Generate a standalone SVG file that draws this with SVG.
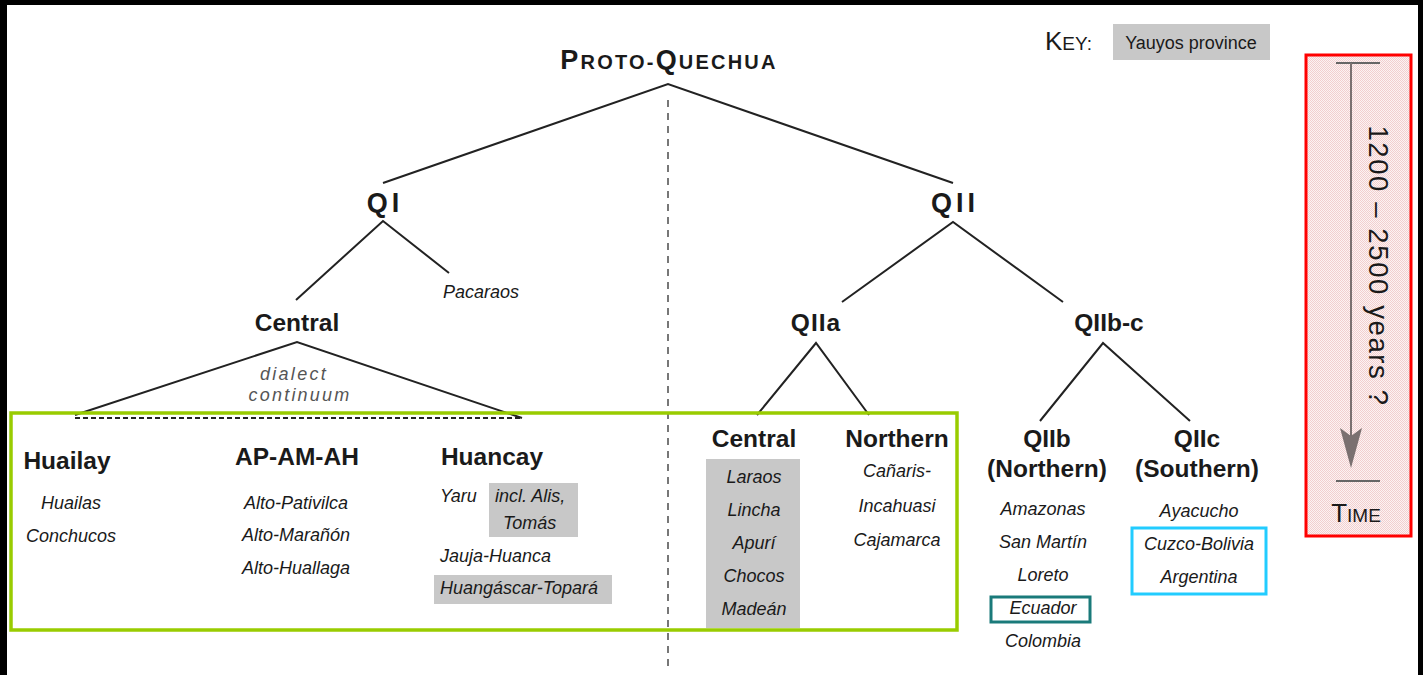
<svg xmlns="http://www.w3.org/2000/svg" width="1423" height="675" viewBox="0 0 1423 675">
<style>
text{font-family:"Liberation Sans",Arial,sans-serif;fill:#1a1a1a}
.h{font-weight:bold;font-size:24.5px;text-anchor:middle}
.q{font-weight:bold;font-size:27px;text-anchor:middle;letter-spacing:4px}
.i{font-style:italic;font-size:18px;text-anchor:middle}
.il{font-style:italic;font-size:18px}
.ln{stroke:#222;stroke-width:2;fill:none}
.yb{fill:#c8c8c8}
</style>
<defs>
<pattern id="dots" width="2" height="2" patternUnits="userSpaceOnUse">
<rect width="2" height="2" fill="#fcf3f3"/>
<rect width="1" height="1" fill="#f2cfcf"/>
<rect x="1" y="1" width="1" height="1" fill="#f2cfcf"/>
</pattern>
</defs>
<rect width="1423" height="675" fill="#fff"/>
<rect x="0" y="0" width="7" height="675" fill="#000"/>
<rect x="0" y="0" width="1423" height="5" fill="#000"/>
<rect x="1418" y="0" width="5" height="675" fill="#000"/>

<g id="connectors">
<line x1="668" y1="100" x2="668" y2="668" stroke="#777" stroke-width="2" stroke-dasharray="7 6"/>
<polyline class="ln" points="383,183 668,84 953,183"/>
<polyline class="ln" points="296,300 383,221 449,273"/>
<polyline class="ln" points="75,415 297,342 522,418"/>
<line x1="75" y1="418" x2="523" y2="418" stroke="#222" stroke-width="2" stroke-dasharray="5 3"/>
<polyline class="ln" points="842,302 953,222 1063,302"/>
<polyline class="ln" points="757,415 816,343 869,415"/>
<polyline class="ln" points="1040,421 1103,343 1190,421"/>
</g>

<g id="title"><text x="669" y="69" text-anchor="middle" font-weight="bold" letter-spacing="2.2"><tspan font-size="27">P</tspan><tspan font-size="20">ROTO-</tspan><tspan font-size="27">Q</tspan><tspan font-size="20">UECHUA</tspan></text></g>

<g id="key">
<text x="1045" y="50"><tspan font-size="26">K</tspan><tspan font-size="19">EY:</tspan></text>
<rect class="yb" x="1113" y="24" width="157" height="36"/>
<text x="1191" y="49" font-size="18" text-anchor="middle">Yauyos province</text>
</g>

<g id="time">
<rect x="1306" y="55" width="105" height="481" fill="url(#dots)" stroke="#f00" stroke-width="3"/>
<line x1="1336" y1="63" x2="1380" y2="63" stroke="#666" stroke-width="2"/>
<line x1="1351" y1="63" x2="1351" y2="440" stroke="#7a7070" stroke-width="2"/>
<polygon points="1340,428 1351,436 1362,428 1351,468" fill="#7a7070"/>
<line x1="1336" y1="481" x2="1380" y2="481" stroke="#666" stroke-width="2"/>
<text transform="translate(1369,266) rotate(90)" text-anchor="middle" font-size="27.5" letter-spacing="1.6">1200 – 2500 years ?</text>
<text x="1356" y="522" text-anchor="middle"><tspan font-size="26">T</tspan><tspan font-size="19">IME</tspan></text>
</g>

<g id="qi"><text class="q" x="385" y="212">QI</text></g>
<g id="pacaraos"><text class="i" x="481" y="298">Pacaraos</text></g>
<g id="central-qi"><text class="h" x="297" y="331">Central</text></g>
<g id="dialect"><text x="294" y="380" font-size="18" font-style="italic" style="fill:#555" text-anchor="middle" letter-spacing="2.3">dialect</text><text x="300" y="401" font-size="18" font-style="italic" style="fill:#555" text-anchor="middle" letter-spacing="2.2">continuum</text></g>

<g id="qi-box"><rect x="11" y="413" width="946" height="217" fill="none" stroke="#99cc00" stroke-width="3.5"/></g>

<g id="huailay">
<text class="h" x="67" y="469">Huailay</text>
<text class="i" x="71" y="509">Huailas</text>
<text class="i" x="71" y="542">Conchucos</text>
</g>
<g id="apamah">
<text class="h" x="297" y="465">AP-AM-AH</text>
<text class="i" x="296" y="509">Alto-Pativilca</text>
<text class="i" x="296" y="541">Alto-Marañón</text>
<text class="i" x="296" y="574">Alto-Huallaga</text>
</g>
<g id="huancay">
<text class="h" x="492" y="465">Huancay</text>
<text class="il" x="440" y="502">Yaru</text>
<rect class="yb" x="489" y="483" width="89" height="54"/>
<text class="il" x="495" y="502">incl. Alis,</text>
<text class="il" x="503" y="529">Tomás</text>
<text class="il" x="440" y="562">Jauja-Huanca</text>
<rect class="yb" x="434" y="575" width="178" height="29"/>
<text class="il" x="440" y="594">Huangáscar-Topará</text>
</g>

<g id="qii"><text class="q" x="955" y="212">QII</text></g>
<g id="qiia"><text class="h" x="816" y="331" letter-spacing="1">QIIa</text></g>
<g id="qiibc"><text class="h" x="1109" y="331">QIIb-c</text></g>

<g id="central-qiia">
<text class="h" x="754" y="447">Central</text>
<rect class="yb" x="706" y="459" width="94" height="169"/>
<text class="i" x="754" y="483">Laraos</text>
<text class="i" x="754" y="516">Lincha</text>
<text class="i" x="754" y="549">Apurí</text>
<text class="i" x="754" y="582">Chocos</text>
<text class="i" x="754" y="615">Madeán</text>
</g>
<g id="northern-qiia">
<text class="h" x="897" y="447">Northern</text>
<text class="i" x="897" y="477">Cañaris-</text>
<text class="i" x="897" y="512">Incahuasi</text>
<text class="i" x="897" y="546">Cajamarca</text>
</g>
<g id="qiib">
<text class="h" x="1047" y="447">QIIb</text>
<text class="h" x="1047" y="477">(Northern)</text>
<text class="i" x="1043" y="515">Amazonas</text>
<text class="i" x="1043" y="548">San Martín</text>
<text class="i" x="1043" y="581">Loreto</text>
<rect x="991" y="597" width="99" height="25" fill="none" stroke="#1a7a7a" stroke-width="3"/>
<text class="i" x="1043" y="614">Ecuador</text>
<text class="i" x="1043" y="647">Colombia</text>
</g>
<g id="qiic">
<text class="h" x="1197" y="447">QIIc</text>
<text class="h" x="1197" y="477">(Southern)</text>
<text class="i" x="1199" y="517">Ayacucho</text>
<rect x="1132" y="528" width="134" height="66" fill="none" stroke="#22ccff" stroke-width="3"/>
<text class="i" x="1199" y="550">Cuzco-Bolivia</text>
<text class="i" x="1199" y="583">Argentina</text>
</g>
</svg>
